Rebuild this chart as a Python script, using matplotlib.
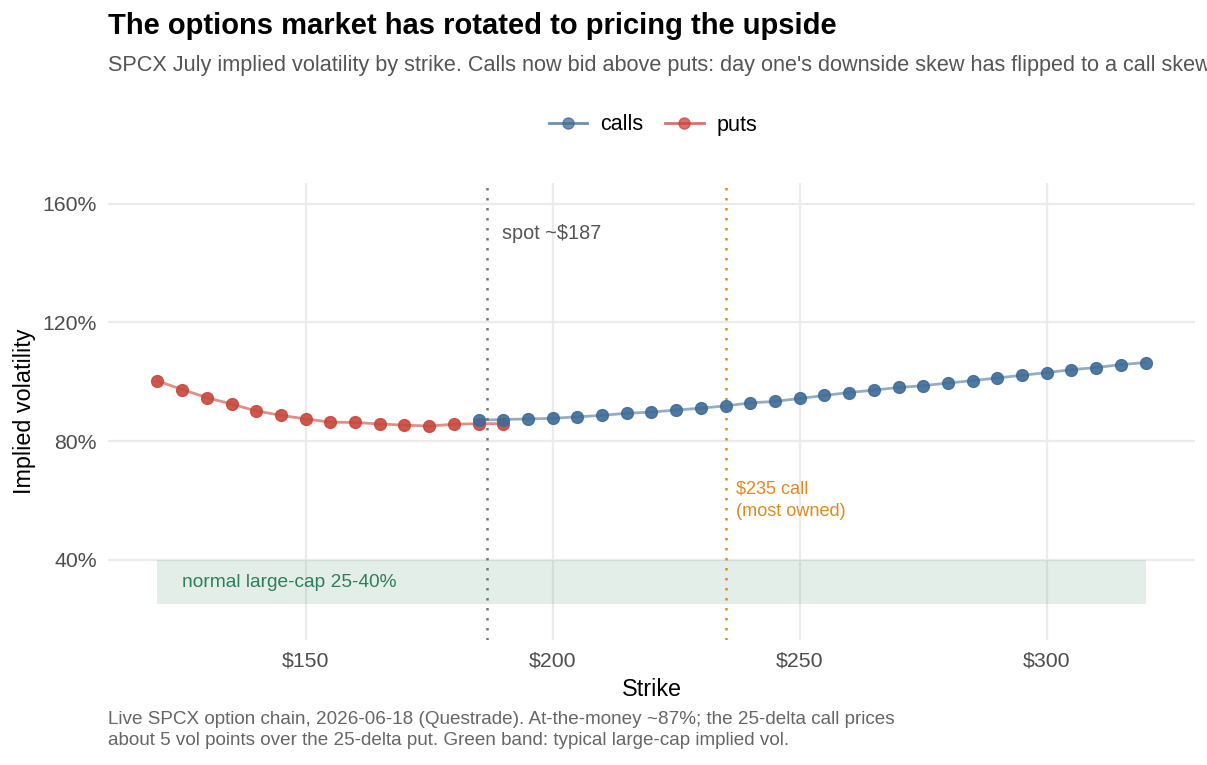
import matplotlib
matplotlib.use("Agg")
import matplotlib.pyplot as plt
from matplotlib.lines import Line2D
from matplotlib.ticker import FuncFormatter, FixedLocator

plt.rcParams['font.family'] = ['Liberation Sans', 'DejaVu Sans']

put_strikes = [120, 125, 130, 135, 140, 145, 150, 155, 160, 165, 170, 175, 180, 185, 190]
put_iv = [100.3, 97.4, 94.7, 92.5, 90.2, 88.7, 87.5, 86.4, 86.3, 85.8, 85.4, 85.1, 85.7, 85.9, 85.9]

call_strikes = [185, 190, 195, 200, 205, 210, 215, 220, 225, 230, 235, 240, 245, 250,
                255, 260, 265, 270, 275, 280, 285, 290, 295, 300, 305, 310, 315, 320]
call_iv = [87.1, 87.3, 87.5, 87.7, 88.2, 88.7, 89.4, 89.8, 90.5, 91.1, 91.9, 92.9, 93.4, 94.4,
           95.4, 96.4, 97.2, 98.1, 98.7, 99.6, 100.4, 101.3, 102.2, 103.1, 104.1, 104.8, 105.8, 106.5]

band_low, band_high = 25, 40
band_x = [120, 320]
spot = 186.7
most_owned = 235

x_ticks = [150, 200, 250, 300]
y_ticks = [40, 80, 120, 160]

call_col = "#3d6b96"
put_col = "#c8463b"

fig = plt.figure(figsize=(12.07, 7.65), dpi=100)
ax = fig.add_axes([0.0895, 0.1634, 0.9005, 0.5974])

ax.fill_between(band_x, band_low, band_high, color="#2e7d5b", alpha=0.13, lw=0, zorder=1)
ax.text(125, 32.5, "normal large-cap 25-40%", color="#2e7d5b", fontsize=13.8, va="center", ha="left")

ax.axvline(spot, color="#777777", ls=(0, (1, 3)), lw=1.8, zorder=2)
ax.text(spot + 3, 150, "spot ~$187", color="#555555", fontsize=14.3, va="center", ha="left")
ax.axvline(most_owned, color="#e08a1e", ls=(0, (1, 3)), lw=1.8, zorder=2)
ax.text(most_owned + 2.2, 60, "$235 call\n(most owned)", color="#e08a1e", fontsize=13.1,
        va="center", ha="left", linespacing=1.45)

ax.plot(put_strikes, put_iv, color=put_col, alpha=0.6, lw=2, zorder=3)
ax.plot(call_strikes, call_iv, color=call_col, alpha=0.55, lw=2, zorder=3)
ax.plot(put_strikes, put_iv, "o", color=put_col, ms=8.5, alpha=0.9, mec=put_col, zorder=4)
ax.plot(call_strikes, call_iv, "o", color=call_col, ms=8.5, alpha=0.9, mec=call_col, zorder=5)

ax.set_xlim(110, 330)
ax.set_ylim(13, 167)
ax.xaxis.set_major_locator(FixedLocator(x_ticks))
ax.yaxis.set_major_locator(FixedLocator(y_ticks))
ax.xaxis.set_major_formatter(FuncFormatter(lambda v, p: f"${v:.0f}"))
ax.yaxis.set_major_formatter(FuncFormatter(lambda v, p: f"{v:.0f}%"))
ax.grid(True, color="#ebebeb", lw=1.6)
ax.set_axisbelow(True)
for s in ax.spines.values():
    s.set_visible(False)
ax.tick_params(axis="x", length=0, labelsize=15.3, colors="#4d4d4d", pad=8)
ax.tick_params(axis="y", length=0, labelsize=15.3, colors="#4d4d4d", pad=8)
ax.set_xlabel("Strike", fontsize=16.8, color="black", labelpad=6)
ax.set_ylabel("Implied volatility", fontsize=16.8, color="black", labelpad=5)

fig.text(108 / 1207, 1 - 26 / 765, "The options market has rotated to pricing the upside",
         fontsize=21, fontweight="bold", va="center", ha="left")
fig.text(108 / 1207, 1 - 65 / 765,
         "SPCX July implied volatility by strike. Calls now bid above puts: day one's downside skew has flipped to a call skew.",
         fontsize=15.6, color="#555555", va="center", ha="left")

handles = [Line2D([0], [0], color=call_col, lw=2, marker="o", ms=8, alpha=0.75, label="calls"),
           Line2D([0], [0], color=put_col, lw=2, marker="o", ms=8, alpha=0.75, label="puts")]
fig.legend(handles=handles, loc="center", bbox_to_anchor=(0.541, 1 - 125 / 765), ncol=2,
           frameon=False, fontsize=15.5, handlelength=1.8, columnspacing=1.0, handletextpad=0.6)

fig.text(108 / 1207, 1 - 730 / 765,
         "Live SPCX option chain, 2026-06-18 (Questrade). At-the-money ~87%; the 25-delta call prices\n"
         "about 5 vol points over the 25-delta put. Green band: typical large-cap implied vol.",
         fontsize=13.6, color="#666666", va="center", ha="left", linespacing=1.3)

fig.savefig("out.png", dpi=100)
